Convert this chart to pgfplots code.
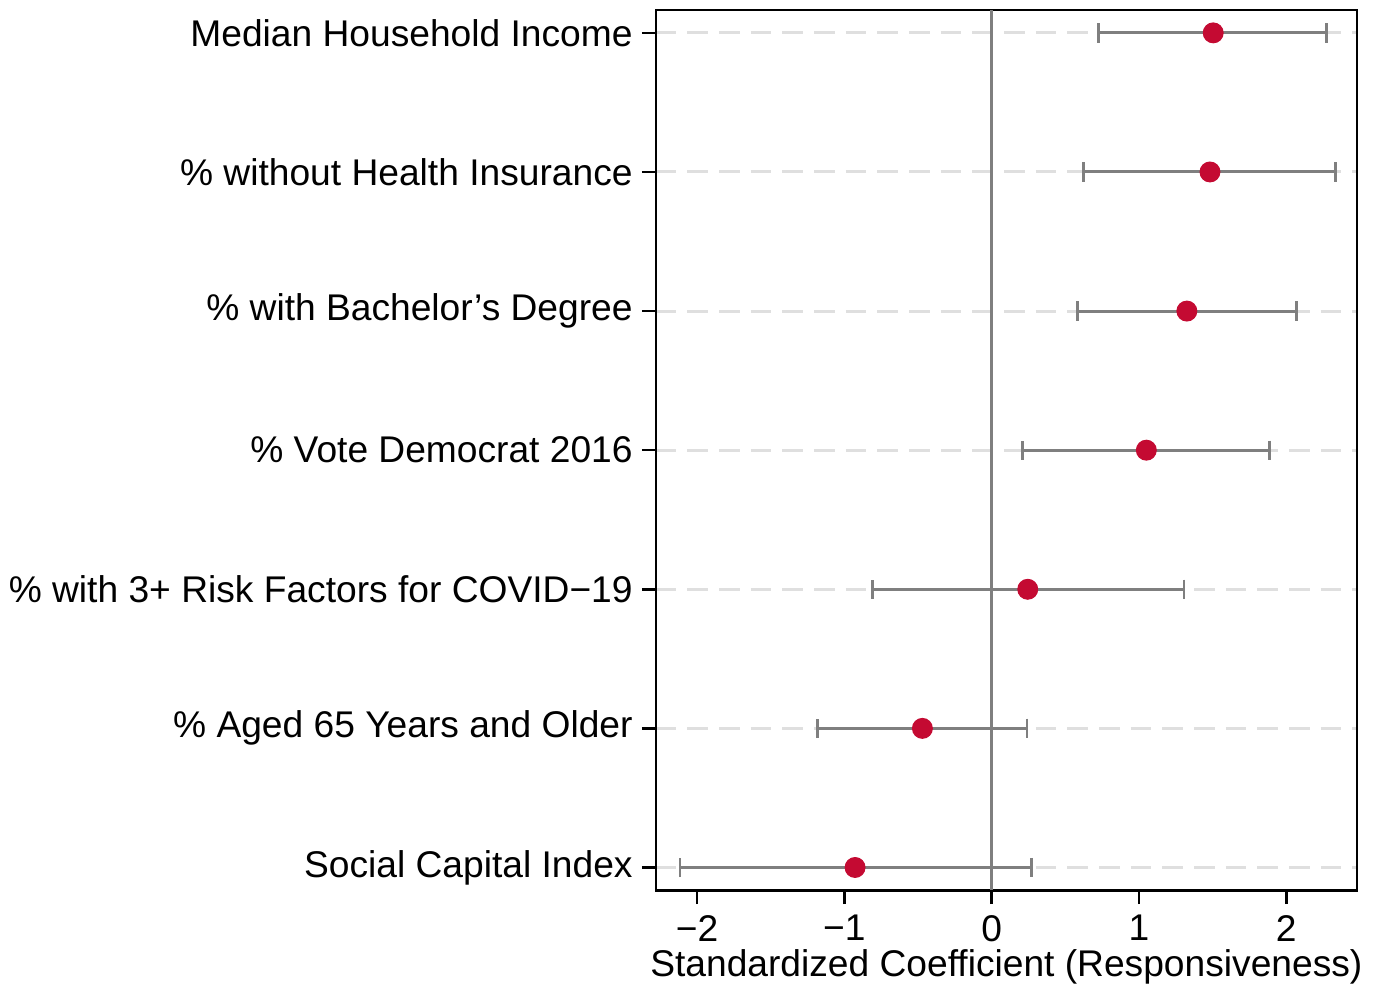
\documentclass[border=0pt]{standalone}
\usepackage{fontspec}
\setmainfont{Liberation Sans}
\usepackage{pgfplots}
\pgfplotsset{compat=1.18}
\usepackage{pgfplotstable}
\definecolor{dotred}{HTML}{C40A32}
\definecolor{bargray}{HTML}{7F7F7F}
\definecolor{gridgray}{HTML}{DFDFDF}

% x = estimate, lo/hi = interval ends, row 1 = top
\pgfplotstableread{
row x     lo     hi
1   1.504 0.725  2.274
2   1.482 0.621  2.336
3   1.325 0.585  2.070
4   1.050 0.210  1.885
5   0.245 -0.810 1.305
6   -0.470 -1.180 0.240
7   -0.927 -2.115 0.268
}\coefs

\begin{document}
\begin{tikzpicture}
\begin{axis}[
    scale only axis,
    width=254.7pt,
    height=319.8pt,
    xmin=-2.28, xmax=2.48,
    ymin=0.835, ymax=7.165,
    y dir=reverse,
    axis line style={black, line width=0.9pt},
    xtick={-2,-1,0,1,2},
    xticklabels={−2,−1,0,1,2},
    ytick={1,2,3,4,5,6,7},
    yticklabels={Median Household Income,
                 \% without Health Insurance,
                 \% with Bachelor’s Degree,
                 \% Vote Democrat 2016,
                 \% with 3+ Risk Factors for COVID−19,
                 \% Aged 65 Years and Older,
                 Social Capital Index},
    tick align=outside,
    major tick length=5pt,
    tick style={black, line width=0.9pt},
    xtick pos=bottom, ytick pos=left,
    ymajorgrids,
    major grid style={gridgray, line width=1.1pt, dash pattern=on 7.5pt off 4pt},
    ticklabel style={font=\fontsize{13.5}{16}\selectfont},
    yticklabel style={inner xsep=3.2pt},
    xlabel={Standardized Coefficient (Responsiveness)},
    xlabel style={font=\fontsize{13.5}{16}\selectfont, yshift=4pt},
    xticklabel style={yshift=-0.5pt},
    /pgf/number format/assume math mode=true,
]
\addplot[bargray, line width=1pt] coordinates {(0,0.835) (0,7.165)};
\addplot[only marks, mark=*, mark size=3.6pt,
    mark options={fill=dotred, draw=dotred},
    error bars/.cd,
      x dir=both, x explicit,
      error bar style={bargray, line width=1.1pt},
      error mark options={bargray, line width=1pt, mark size=3.5pt, rotate=90},
] table[
    x=x, y=row,
    x error plus expr=\thisrow{hi}-\thisrow{x},
    x error minus expr=\thisrow{x}-\thisrow{lo},
] {\coefs};
\end{axis}
\path (current axis.north east) ++(6.9pt,3.6pt) coordinate (bbx);
\end{tikzpicture}
\end{document}
